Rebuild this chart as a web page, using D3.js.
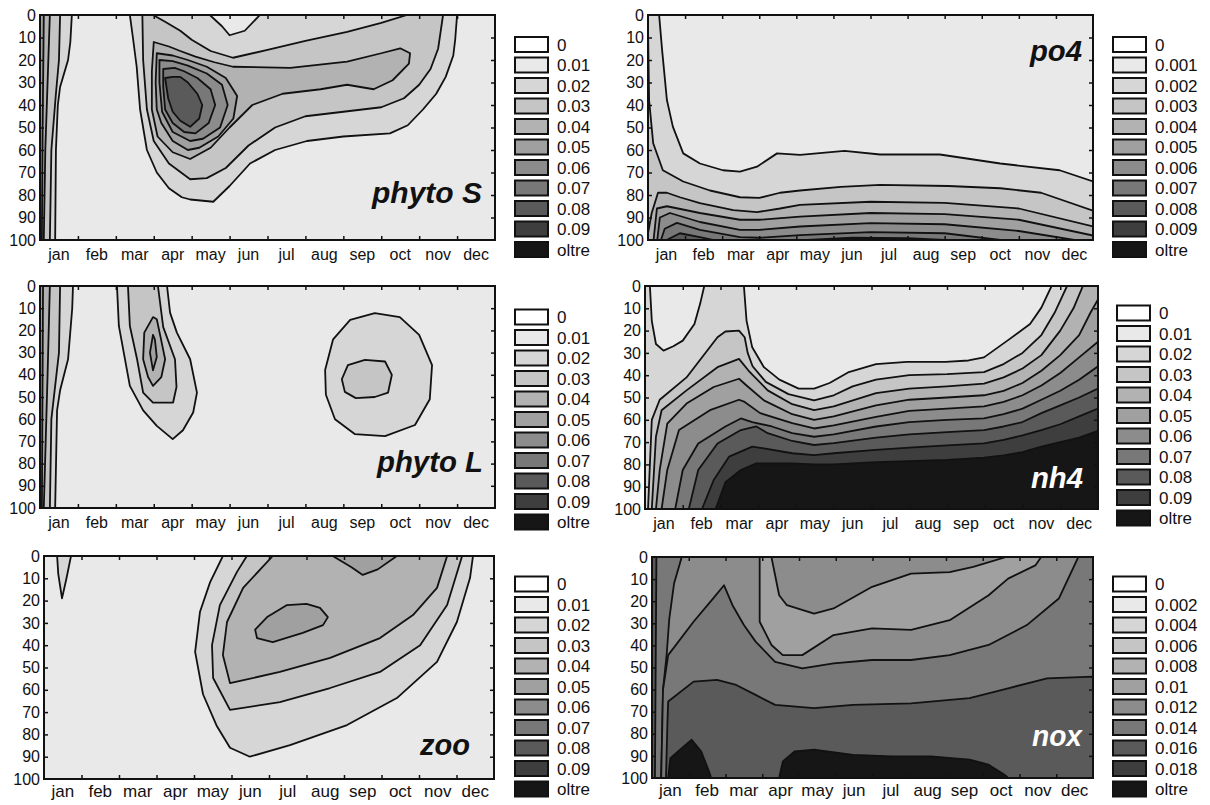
<!DOCTYPE html>
<html>
<head>
<meta charset="utf-8">
<script src="https://cdnjs.cloudflare.com/ajax/libs/d3/7.8.5/d3.min.js"></script>
<style>
  body { margin: 0; background: #fff; }
  text { font-family: "Liberation Sans", Arial, sans-serif; }
</style>
</head>
<body>
<svg id="chart" width="1210" height="805"></svg>
<script>
// ---- shared labels ----
const months = ['jan', 'feb', 'mar', 'apr', 'may', 'jun', 'jul', 'aug', 'sep', 'oct', 'nov', 'dec'];
const depthTicks = [0, 10, 20, 30, 40, 50, 60, 70, 80, 90, 100];
const legendPhyto = ['0', '0.01', '0.02', '0.03', '0.04', '0.05', '0.06', '0.07', '0.08', '0.09', 'oltre'];
const legendPo4 = ['0', '0.001', '0.002', '0.003', '0.004', '0.005', '0.006', '0.007', '0.008', '0.009', 'oltre'];
const legendNox = ['0', '0.002', '0.004', '0.006', '0.008', '0.01', '0.012', '0.014', '0.016', '0.018', 'oltre'];
const shades = ['#ffffff', '#e9e9e9', '#d6d6d6', '#c5c5c5', '#b2b2b2', '#a0a0a0',
  '#8c8c8c', '#787878', '#5a5a5a', '#3e3e3e', '#161616'];

// ---- contour regions: [month, depth] rings, drawn in order over a base class ----
// phyto S
const phytoSBase = 1;
const phytoSClasses = [2, 3, 4, 5, 2, 1, 3, 4, 5, 6, 7, 8];
const phytoSRings = [
  [[0, 0], [0.84, 0], [0.8, 12], [0.74, 20], [0.6, 28], [0.53, 32], [0.47, 40], [0.42, 60], [0.4, 100], [0, 100]],
  [[0, 0], [0.53, 0], [0.5, 20], [0.42, 35], [0.3, 60], [0.26, 100], [0, 100]],
  [[0, 0], [0.26, 0], [0.2, 30], [0.14, 60], [0.1, 100], [0, 100]],
  [[0, 0], [0.1, 0], [0.07, 50], [0.05, 100], [0, 100]],
  [[2.37, 0], [2.45, 10], [2.55, 23], [2.64, 42], [2.82, 60], [3.08, 70], [3.4, 77], [3.74, 81], [3.96, 82], [4.57, 83],
    [5.0, 76], [5.54, 66], [6.2, 60], [7.04, 56], [8.0, 54], [9.23, 52.6], [9.7, 49], [10.1, 42], [10.45, 35],
    [10.7, 27.5], [10.9, 18], [10.95, 11], [11.0, 0]],
  [[4.48, 0], [4.8, 5], [5.0, 9], [5.4, 7], [5.8, 0]],
  [[2.7, 0], [2.72, 20], [2.82, 42], [3.0, 56], [3.4, 66], [3.96, 73], [4.4, 72.5], [4.9, 68], [5.5, 58], [6.2, 50],
    [7.0, 45], [8.0, 43], [9.0, 41], [9.6, 37], [10.0, 31], [10.3, 24], [10.5, 15], [10.63, 0], [9.68, 0],
    [9.0, 3.5], [8.1, 7.5], [7.0, 11.5], [6.0, 15.5], [5.09, 19], [4.5, 16], [4.0, 11], [3.7, 7], [3.3, 3], [2.98, 0]],
  [[3.0, 12], [3.4, 14], [3.7, 16], [4.1, 18.5], [4.6, 21], [5.09, 23], [6.6, 23.5], [8.1, 20.7], [9.0, 17],
    [9.5, 14.8], [9.76, 17], [9.73, 21.6], [9.3, 29], [8.8, 33], [8.1, 31], [7.4, 33], [6.4, 35], [5.6, 40],
    [5.0, 50], [4.5, 59], [3.96, 64], [3.5, 61], [3.1, 54], [2.95, 42], [2.95, 25]],
  [[3.08, 17], [3.5, 18], [3.9, 20], [4.4, 23], [4.9, 28], [5.2, 36], [5.1, 46], [4.7, 54], [4.2, 59], [3.9, 60],
    [3.5, 56], [3.2, 48], [3.08, 42], [3.05, 30]],
  [[3.15, 20], [3.5, 20.5], [3.9, 22.5], [4.4, 26], [4.8, 31], [4.95, 40], [4.75, 50], [4.3, 55], [3.96, 56],
    [3.5, 52], [3.22, 43], [3.15, 30]],
  [[3.25, 24], [3.55, 23.5], [3.8, 25], [4.15, 28], [4.5, 33], [4.62, 40], [4.45, 48], [4.1, 52.6], [3.8, 52],
    [3.5, 48], [3.3, 42], [3.25, 32]],
  [[3.3, 28], [3.5, 27.5], [3.7, 27.5], [3.9, 30], [4.15, 35], [4.28, 40], [4.2, 46], [3.96, 49.7], [3.7, 47],
    [3.5, 43], [3.38, 37]]
];

// phyto L
const phytoLBase = 1;
const phytoLClasses = [2, 3, 4, 5, 2, 3, 4, 5, 2, 3];
const phytoLRings = [
  [[0, 0], [0.87, 0], [0.85, 10], [0.74, 33], [0.53, 47], [0.45, 56], [0.4, 100], [0, 100]],
  [[0, 0], [0.53, 0], [0.5, 30], [0.3, 60], [0.26, 100], [0, 100]],
  [[0, 0], [0.26, 0], [0.2, 40], [0.1, 100], [0, 100]],
  [[0, 0], [0.08, 0], [0.05, 100], [0, 100]],
  [[2.03, 0], [2.08, 18], [2.37, 45], [2.72, 56], [3.08, 63], [3.5, 69], [3.77, 65], [4.04, 57], [4.14, 48],
    [3.96, 33], [3.61, 21], [3.43, 12], [3.35, 0]],
  [[2.32, 0], [2.37, 18], [2.56, 33], [2.72, 48], [2.98, 52.5], [3.51, 52.5], [3.6, 45.5], [3.56, 33], [3.25, 18.5],
    [3.11, 0]],
  [[2.98, 14], [2.75, 21], [2.72, 33], [2.85, 41], [2.98, 45], [3.2, 41], [3.3, 33], [3.18, 23], [3.08, 15]],
  [[2.98, 22], [2.9, 30], [2.98, 38], [3.08, 32], [3.03, 24]],
  [[7.52, 37.8], [7.73, 24], [8.18, 15.3], [8.83, 12.2], [9.49, 14], [10.0, 22], [10.34, 35.6], [10.28, 51],
    [9.89, 62.6], [9.1, 67.6], [8.3, 66.7], [7.78, 60], [7.54, 49]],
  [[7.96, 42], [8.12, 35.6], [8.57, 33.3], [9.1, 34], [9.28, 40], [9.18, 48], [8.83, 50], [8.33, 50.5], [8.04, 47.7]]
];

// zoo
const zooBase = 1;
const zooClasses = [2, 2, 3, 4, 5, 5];
const zooRings = [
  [[0.35, 0], [0.38, 8], [0.48, 19], [0.6, 10], [0.72, 0]],
  [[4.77, 0], [4.43, 11.7], [4.16, 25], [4.03, 43], [4.24, 62], [4.6, 76], [4.96, 86], [5.49, 90], [6.56, 84.8],
    [8.08, 75.8], [9.41, 63.7], [10.48, 47.5], [11.01, 29.6], [11.36, 9.9], [11.44, 0]],
  [[5.41, 0], [5.15, 7], [4.69, 22], [4.48, 40], [4.51, 54.7], [4.96, 69], [6.29, 65.5], [7.63, 59.2], [8.96, 52],
    [10.03, 40], [10.75, 22], [11.15, 0]],
  [[6.1, 0], [5.31, 14.3], [4.88, 29.6], [4.77, 44.4], [4.96, 57], [6.29, 52], [7.63, 45.7], [8.96, 36.8],
    [9.84, 26.5], [10.48, 14.3], [10.75, 0]],
  [[7.7, 0], [8.2, 5], [8.5, 8.5], [8.9, 6], [9.41, 0]],
  [[5.63, 33], [5.95, 27.4], [6.48, 22], [7.0, 21.5], [7.36, 23.3], [7.57, 27.4], [7.44, 31], [6.9, 34.5],
    [6.1, 38.6], [5.68, 36.8]]
];

// po4
const po4Base = 1;
const po4Classes = [2, 3, 4, 5, 6, 7, 8, 8];
const po4Rings = [
  [[0, 0], [0.3, 0], [0.38, 15.5], [0.51, 37.8], [0.67, 49.6], [0.95, 61.5], [1.4, 66], [2.02, 69], [2.48, 69.6],
    [2.94, 67.4], [3.48, 61.5], [4.1, 62.2], [5.3, 60.4], [6.26, 62], [7.87, 62], [9.5, 66], [11.1, 69], [12, 74],
    [12, 100], [0, 100]],
  [[0, 5], [0.03, 38], [0.14, 57], [0.4, 69], [0.95, 74], [1.67, 78], [2.48, 81], [3.0, 81.3], [3.56, 79], [4.1, 78],
    [5.2, 76.4], [6.26, 75.5], [8.1, 76], [9.5, 77], [10.6, 79], [12, 87], [12, 100], [0, 100]],
  [[0, 97], [0.1, 88], [0.27, 79], [0.51, 79], [0.86, 81], [1.4, 83.6], [2.3, 86.7], [2.94, 87.6], [3.56, 86],
    [4.1, 84.4], [6, 83], [8, 83.5], [10, 86], [12, 94], [12, 100], [0, 100]],
  [[0.15, 100], [0.24, 86], [0.51, 85], [1.4, 88], [2.48, 91], [3.0, 91], [4.1, 89.6], [6, 88], [8, 88.5], [10, 91],
    [12, 98], [12, 100]],
  [[0.25, 100], [0.32, 90], [0.59, 88], [1.4, 92], [2.48, 95.5], [3.0, 95.5], [4.1, 94], [6, 92.5], [8, 93],
    [10, 96], [11.5, 100]],
  [[0.35, 100], [0.45, 95], [0.78, 92.4], [1.4, 95.5], [2.48, 98.7], [3.0, 99], [4.1, 97.8], [6, 96.5], [8, 97],
    [9.5, 100]],
  [[0.5, 100], [0.86, 97], [1.4, 98.7], [1.75, 100]],
  [[4.3, 100], [5.5, 99], [7, 99.2], [8, 100]]
];

// nh4
const nh4Base = 2;
const nh4Classes = [3, 4, 5, 6, 7, 8, 9, 10, 1, 1];
const nh4Rings = [
  [[0.08, 100], [0.18, 60], [0.39, 51], [1.1, 41], [1.92, 23], [2.13, 20.4], [2.49, 20], [2.64, 23], [2.72, 30],
    [2.85, 36], [3.2, 43], [3.8, 48.5], [4.48, 51.3], [5.0, 49], [5.5, 45], [6.12, 42], [7.0, 40], [8.0, 39.5],
    [8.98, 38.6], [9.5, 35], [10.0, 30], [10.5, 22], [10.85, 12], [11.18, 0], [12, 0], [12, 100]],
  [[0.18, 100], [0.29, 67.6], [0.44, 55.7], [1.1, 46.8], [1.92, 36.4], [2.49, 32.7], [2.74, 37.9], [3.25, 46.8],
    [3.9, 53], [4.48, 55.7], [5.0, 54], [6.12, 48], [7.0, 46], [8.0, 45], [8.98, 43.8], [9.5, 41], [10.0, 37],
    [10.5, 31], [11.0, 20], [11.35, 10], [11.6, 0], [12, 0], [12, 100]],
  [[0.29, 100], [0.39, 82.5], [0.59, 61.7], [1.1, 52.7], [1.82, 45.3], [2.49, 41.6], [2.69, 44.6], [3.15, 51.3],
    [3.9, 57.5], [4.48, 60], [5.0, 58.5], [6.12, 53.5], [7, 51], [8, 50], [8.98, 49], [9.5, 47], [10, 43.5],
    [10.5, 38], [11, 31], [11.5, 22], [11.8, 12], [12, 6], [12, 100]],
  [[0.44, 100], [0.59, 82.5], [0.9, 64.6], [1.72, 55.7], [2.49, 51], [2.64, 52], [3.05, 57], [3.9, 61.5],
    [4.48, 63.9], [5.0, 62.5], [6.12, 58.7], [7, 56], [8, 55], [8.98, 54], [9.5, 52], [10, 49], [10.5, 44.6],
    [11, 39], [11.5, 32], [12, 25], [12, 100]],
  [[0.8, 100], [1.0, 82.5], [1.41, 70.6], [2.13, 63], [2.54, 59.4], [2.84, 61], [3.36, 63], [3.9, 66], [4.48, 67.6],
    [5, 66.5], [6.12, 63], [7, 61], [8, 60], [8.98, 59.4], [9.5, 57.5], [10, 55], [10.5, 51], [11, 47], [11.5, 42],
    [12, 36], [12, 100]],
  [[1.16, 100], [1.41, 82.5], [1.92, 70.6], [2.54, 64.6], [2.95, 63], [3.25, 66], [3.9, 69.5], [4.48, 71.3],
    [5, 70.5], [6.12, 68], [7, 66.5], [8, 65.5], [8.98, 64.6], [9.5, 63], [10, 61], [10.5, 57], [11, 53.5],
    [11.5, 50], [12, 46], [12, 100]],
  [[1.51, 100], [1.82, 87], [2.23, 76.5], [2.84, 72], [3.15, 72.8], [3.9, 75], [4.48, 75.8], [5, 75], [6.12, 73.5],
    [7, 72.5], [8, 71.5], [8.98, 70.6], [9.5, 69], [10, 67], [10.5, 64.6], [11, 62], [11.5, 58.5], [12, 55],
    [12, 100]],
  [[1.87, 100], [2.13, 88], [2.54, 82.5], [2.95, 79.5], [3.87, 79.5], [4.48, 80], [5, 80], [6.12, 79], [7, 78.5],
    [8, 78], [8.98, 77], [9.5, 76], [10, 74.5], [10.5, 72], [11, 70], [11.5, 68], [12, 65], [12, 100]],
  [[0.13, 0], [0.18, 15.6], [0.29, 26], [0.49, 29], [0.75, 27], [1.0, 24.5], [1.31, 17], [1.46, 8], [1.57, 0]],
  [[2.62, 0], [2.69, 15.6], [2.84, 27.5], [3.15, 36.4], [3.56, 42], [4.07, 46], [4.48, 46], [4.89, 43.5],
    [5.4, 38.6], [6.12, 35], [6.94, 34], [7.96, 34], [8.57, 33.4], [8.98, 32], [9.6, 24.5], [10.2, 17],
    [10.5, 9.7], [10.77, 0]]
];

// nox
const noxBase = 6;
const noxClasses = [7, 5, 6, 7, 8, 10, 10, 8];
const noxRings = [
  [[0, 0], [0.81, 0], [0.6, 12], [0.47, 28], [0.4, 44], [0.3, 60], [0.25, 100], [0, 100]],
  [[2.93, 0], [2.93, 29.3], [3.25, 39.8], [3.56, 44.4], [4.09, 44.4], [4.94, 35.3], [5.99, 32.3], [7.05, 33],
    [8.1, 28.6], [9.16, 17.3], [9.69, 9.8], [10.43, 3.8], [10.59, 0]],
  [[3.25, 0], [3.46, 17.3], [3.67, 21.8], [4.41, 25.6], [4.94, 23.3], [5.99, 13.5], [7.05, 7.5], [8.1, 6.8],
    [8.74, 4.5], [9.64, 0]],
  [[0.25, 100], [0.3, 60], [0.44, 44.4], [1.13, 29.3], [1.66, 18.8], [1.96, 12.8], [2.19, 21.8], [2.5, 30.8],
    [2.82, 38.3], [3.35, 47.4], [4.09, 50.4], [4.94, 48.1], [5.99, 46.6], [7.05, 46.6], [8.1, 44.4], [9.16, 39.8],
    [10.2, 30.8], [11.07, 18.8], [11.6, 0], [12, 0], [12, 100]],
  [[0.38, 100], [0.42, 75], [0.44, 65.4], [1.13, 56.4], [1.77, 55.6], [2.29, 57.9], [2.82, 62.4], [3.35, 66.9],
    [4.41, 68.4], [5.47, 66.9], [7.05, 66.2], [8.64, 63.9], [9.69, 59.4], [10.75, 54.9], [12, 54.1], [12, 100]],
  [[0.44, 100], [0.5, 91], [0.81, 86.5], [1.08, 82.7], [1.34, 88], [1.55, 97], [1.61, 100]],
  [[3.46, 100], [3.56, 92.5], [3.88, 88], [4.41, 87.2], [5.47, 89.5], [6.52, 90.2], [7.58, 90.2], [8.64, 91.7],
    [9.16, 94], [9.59, 98.5], [9.69, 100]],
  [[0, 0], [0.12, 0], [0.1, 50], [0.08, 100], [0, 100]]
];

const svg = d3.select('#chart');

function drawPanel(p) {
  const x = d3.scaleLinear().domain([0, 12]).range([p.x0, p.x1]);
  const y = d3.scaleLinear().domain([0, 100]).range([p.y0, p.y1]);
  const band = d3.scaleBand().domain(months).range([p.x0, p.x1]);

  const g = svg.append('g').attr('class', 'panel-' + p.id);

  g.append('clipPath').attr('id', 'clip-' + p.id)
    .append('rect')
    .attr('x', p.x0).attr('y', p.y0)
    .attr('width', p.x1 - p.x0).attr('height', p.y1 - p.y0);

  const plot = g.append('g').attr('clip-path', `url(#clip-${p.id})`);

  // base class
  plot.append('rect')
    .attr('x', p.x0).attr('y', p.y0)
    .attr('width', p.x1 - p.x0).attr('height', p.y1 - p.y0)
    .attr('fill', shades[p.base]);

  const ring = d3.line()
    .x(d => x(d[0]))
    .y(d => y(d[1]))
    .curve(d3.curveLinearClosed);

  plot.selectAll('path.region')
    .data(p.rings)
    .join('path')
    .attr('class', 'region')
    .attr('d', ring)
    .attr('fill', (d, i) => shades[p.classes[i]])
    .attr('stroke', '#111')
    .attr('stroke-width', 1.8)
    .attr('stroke-linejoin', 'round');

  // inward ticks on four sides
  const tickStyle = sel => {
    sel.select('.domain').remove();
    sel.selectAll('line').attr('stroke', '#111').attr('stroke-width', 1.5);
  };
  g.append('g').attr('transform', `translate(0,${p.y1})`)
    .call(d3.axisBottom(x).tickValues(d3.range(1, 12)).tickSizeInner(-4).tickSizeOuter(0).tickFormat(''))
    .call(tickStyle);
  g.append('g').attr('transform', `translate(0,${p.y0})`)
    .call(d3.axisTop(x).tickValues(d3.range(1, 12)).tickSizeInner(-4).tickSizeOuter(0).tickFormat(''))
    .call(tickStyle);
  g.append('g').attr('transform', `translate(${p.x1},0)`)
    .call(d3.axisRight(y).tickValues(depthTicks.slice(1, -1)).tickSizeInner(-4).tickSizeOuter(0).tickFormat(''))
    .call(tickStyle);

  // left axis with depth labels
  const left = g.append('g').attr('transform', `translate(${p.x0},0)`)
    .call(d3.axisLeft(y).tickValues(depthTicks).tickSizeInner(-4).tickSizeOuter(0).tickPadding(4))
    .call(tickStyle);
  left.selectAll('text')
    .attr('font-family', '"Liberation Sans", Arial, sans-serif')
    .attr('font-size', 16)
    .attr('fill', '#111');
  left.selectAll('.tick').filter(d => d === 0 || d === 100).select('line').remove();

  // month labels at month centres
  const bottom = g.append('g').attr('transform', `translate(0,${p.y1})`)
    .call(d3.axisBottom(band).tickSize(0).tickPadding(p.monthPad));
  bottom.select('.domain').remove();
  bottom.selectAll('text')
    .attr('font-family', '"Liberation Sans", Arial, sans-serif')
    .attr('font-size', p.monthSize)
    .attr('fill', '#111');

  // frame
  g.append('rect')
    .attr('x', p.x0).attr('y', p.y0)
    .attr('width', p.x1 - p.x0).attr('height', p.y1 - p.y0)
    .attr('fill', 'none')
    .attr('stroke', '#111')
    .attr('stroke-width', 2);

  // variable name
  g.append('text')
    .attr('x', p.labelX - p.labelLen)
    .attr('y', p.labelY)
    .attr('textLength', p.labelLen)
    .attr('lengthAdjust', 'spacingAndGlyphs')
    .attr('font-size', 29)
    .attr('font-weight', 'bold')
    .attr('font-style', 'italic')
    .attr('fill', p.labelFill)
    .text(p.label);

  // legend
  const pitch = 20.5;
  const leg = g.append('g').attr('transform', `translate(${p.legX},${p.legY})`);
  leg.selectAll('rect')
    .data(p.legend)
    .join('rect')
    .attr('x', 0)
    .attr('y', (d, i) => i * pitch - 7.5)
    .attr('width', 33)
    .attr('height', 15)
    .attr('fill', (d, i) => shades[i])
    .attr('stroke', '#111')
    .attr('stroke-width', 2);
  leg.selectAll('text')
    .data(p.legend)
    .join('text')
    .attr('x', 42)
    .attr('y', (d, i) => i * pitch + 6)
    .attr('font-size', 17)
    .attr('fill', '#111')
    .text(d => d);
}

const panels = [
  { id: 'phytoS', x0: 40, x1: 495, y0: 15, y1: 240, base: phytoSBase, classes: phytoSClasses, rings: phytoSRings,
    label: 'phyto S', labelX: 482, labelY: 203, labelLen: 110, labelFill: '#111',
    legend: legendPhyto, legX: 515, legY: 44.5, monthSize: 16, monthPad: 9 },
  { id: 'phytoL', x0: 40, x1: 495, y0: 286, y1: 508, base: phytoLBase, classes: phytoLClasses, rings: phytoLRings,
    label: 'phyto L', labelX: 483, labelY: 472, labelLen: 106, labelFill: '#111',
    legend: legendPhyto, legX: 515, legY: 317, monthSize: 16, monthPad: 9 },
  { id: 'zoo', x0: 44, x1: 494, y0: 556, y1: 779, base: zooBase, classes: zooClasses, rings: zooRings,
    label: 'zoo', labelX: 470, labelY: 755, labelLen: 50, labelFill: '#111',
    legend: legendPhyto, legX: 515, legY: 584, monthSize: 17, monthPad: 6 },
  { id: 'po4', x0: 648, x1: 1093, y0: 15, y1: 240, base: po4Base, classes: po4Classes, rings: po4Rings,
    label: 'po4', labelX: 1082, labelY: 61, labelLen: 52, labelFill: '#111',
    legend: legendPo4, legX: 1113, legY: 44.5, monthSize: 16, monthPad: 9 },
  { id: 'nh4', x0: 645, x1: 1098, y0: 286, y1: 509, base: nh4Base, classes: nh4Classes, rings: nh4Rings,
    label: 'nh4', labelX: 1083, labelY: 488, labelLen: 52, labelFill: '#fff',
    legend: legendPhyto, legX: 1117, legY: 313, monthSize: 16, monthPad: 9 },
  { id: 'nox', x0: 652, x1: 1093, y0: 557, y1: 778, base: noxBase, classes: noxClasses, rings: noxRings,
    label: 'nox', labelX: 1082, labelY: 746, labelLen: 50, labelFill: '#fff',
    legend: legendNox, legX: 1113, legY: 584, monthSize: 17, monthPad: 6 }
];

panels.forEach(drawPanel);
</script>
</body>
</html>
